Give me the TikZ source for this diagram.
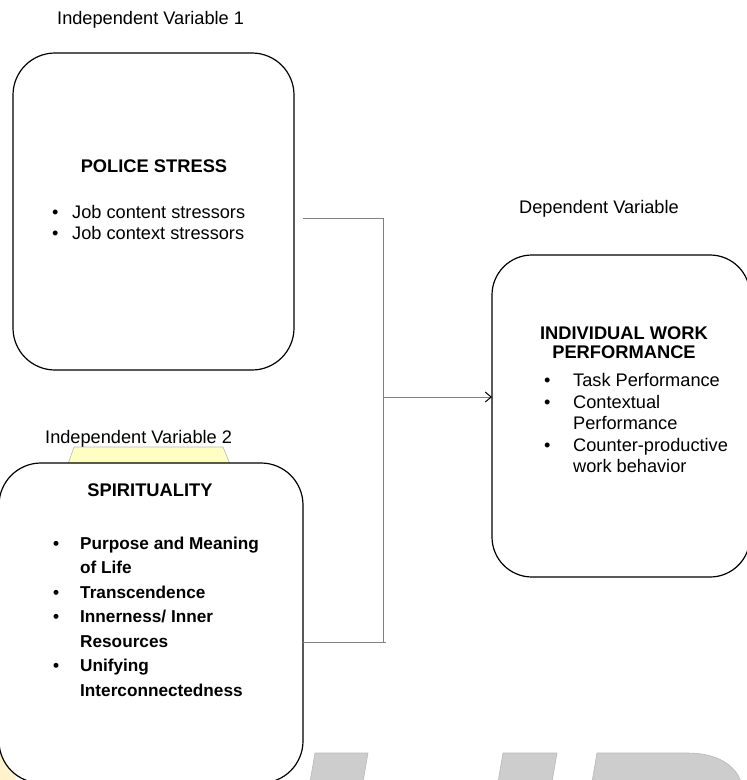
\documentclass[tikz,border=0pt]{standalone}
\usepackage{fontspec}
\setmainfont{Liberation Sans}
\usetikzlibrary{arrows.meta,calc}
\definecolor{wmgrey}{HTML}{CDCDCD}
\definecolor{wmedge}{HTML}{B8B8B8}
\definecolor{paleyellow}{HTML}{FFFFC4}
\definecolor{blobyellow}{HTML}{FFF2CC}
\definecolor{connGrey}{HTML}{808080}
\begin{document}
\begin{tikzpicture}[x=1pt,y=-1pt,
  box/.style={draw=black, line width=1.2pt, rounded corners=42pt, fill=white,
    anchor=north west, inner sep=0pt, outer sep=0pt},
  txt/.style={inner sep=0pt, anchor=base west, font=\fontsize{18.2}{21}\selectfont},
  ctxt/.style={inner sep=0pt, anchor=base, font=\fontsize{18.3}{19}\selectfont\bfseries, align=center},
  conn/.style={draw=connGrey, line width=0.9pt},
  wm/.style={fill=wmgrey, draw=wmedge, line width=0.6pt}
]
\useasboundingbox (0,0) rectangle (747,780);

% watermark shapes
\path[wm] (315,753) -- (368,753) -- (363,782) -- (310,782) -- cycle;
\path[wm] (503,753) -- (557,753) -- (552,782) -- (498,782) -- cycle;
\path[wm] (597,753) -- (688,753) .. controls (718,753) and (736,766) .. (741,782) -- (592,782) -- cycle;
\fill[blobyellow] (0,736) -- (24,736) -- (15,782) -- (0,782) -- cycle;

% yellow tab behind box 2
\path[fill=paleyellow, draw=wmedge, line width=0.6pt] (68,464) -- (74,447) -- (223,447) -- (230,464) -- cycle;

% boxes
\node[box, minimum width=281pt, minimum height=317pt] (b1) at (13,53) {};
\node[box, minimum width=304pt, minimum height=320pt] (b2) at (-1,463) {};
\node[box, minimum width=258pt, minimum height=322pt, rounded corners=40pt] (b3) at (492,255) {};

% labels
\node[txt] (l1) at (57,24) {Independent Variable 1};
\node[txt] (l2) at (45,443) {Independent Variable 2};
\node[txt] (l3) at (519,213) {Dependent Variable};

% box 1 contents
\node[ctxt] (t1) at (154,172) {POLICE STRESS};
\node[txt] (list1) at (52,218) {\begin{tabular}[t]{@{}p{20pt}@{}l@{}}
\textbullet & Job content stressors\\
\textbullet & Job context stressors
\end{tabular}};

% box 2 contents
\node[ctxt] (t2) at (150,496) {SPIRITUALITY};
\node[txt, font=\fontsize{17.2}{24.5}\selectfont\bfseries] (list2) at (53,549) {\begin{tabular}[t]{@{}p{27pt}@{}l@{}}
\textbullet & Purpose and Meaning\\
 & of Life\\
\textbullet & Transcendence\\
\textbullet & Innerness/ Inner\\
 & Resources\\
\textbullet & Unifying\\
 & Interconnectedness
\end{tabular}};

% box 3 contents
\node[ctxt] (t3) at (624,358.5) {INDIVIDUAL WORK\\PERFORMANCE};
\node[txt, font=\fontsize{18.2}{21.5}\selectfont] (list3) at (544,386.5) {\begin{tabular}[t]{@{}p{29pt}@{}l@{}}
\textbullet & Task Performance\\
\textbullet & Contextual\\
 & Performance\\
\textbullet & Counter-productive\\
 & work behavior
\end{tabular}};

% connectors
\coordinate (c1) at ($(b1.east |- 0,218)+(9,0)$);
\coordinate (jt) at (383,218);
\coordinate (jb) at (383,642);
\coordinate (c2) at (b2.east |- jb);
\coordinate (ce) at (386,642);
\coordinate (jm) at (383,397);
\draw[conn] (c1) -- (jt) -- (jb);
\draw[conn] (c2) -- (ce);
\draw[conn, -{Straight Barb[length=6pt,width=10pt,color=black,line width=1pt]}] (jm) -- (jm -| b3.west);
\end{tikzpicture}
\end{document}
